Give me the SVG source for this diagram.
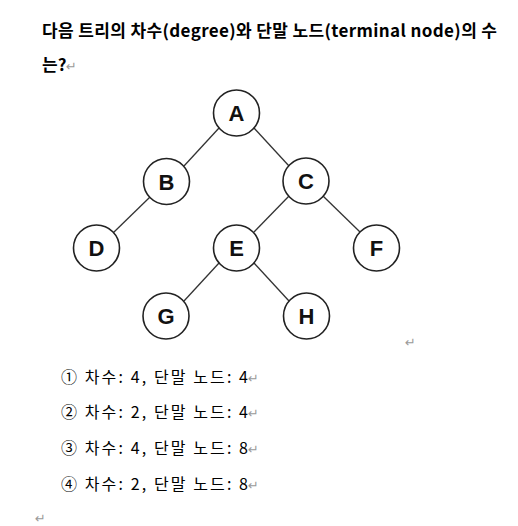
<svg xmlns="http://www.w3.org/2000/svg" width="518" height="526" viewBox="0 0 518 526">
<style>
.t{font-family:"Noto Sans CJK KR","Noto Sans",sans-serif;fill:#000}
.q{font-size:17px;font-weight:bold}
.o{font-size:16px}
.r{fill:#9a9a9a;font-family:"DejaVu Sans",sans-serif;font-size:13px}
.n circle{fill:#fff;stroke:#222;stroke-width:1.6}
.n text{font-family:"Liberation Sans",Arial,sans-serif;font-weight:bold;font-size:22px;text-anchor:middle;fill:#111}
#edges line{stroke:#333;stroke-width:1.3}
</style>
<rect width="518" height="526" fill="#fff"/>
<text class="t q" x="42" y="37" textLength="455" lengthAdjust="spacing">다음 트리의 차수(degree)와 단말 노드(terminal node)의 수</text>
<text class="t q" x="42" y="71">는?</text>
<text class="r" x="66" y="71">↵</text>
<g id="edges">
<line x1="219" y1="128" x2="184" y2="166"/>
<line x1="254" y1="128" x2="289" y2="166"/>
<line x1="150" y1="197" x2="113" y2="233"/>
<line x1="289" y1="196" x2="254" y2="232"/>
<line x1="323" y1="196" x2="360" y2="232"/>
<line x1="219" y1="263" x2="184" y2="301"/>
<line x1="254" y1="263" x2="289" y2="301"/>
</g>
<g id="A" class="n"><circle cx="236.5" cy="113" r="23"/><text x="236.5" y="121">A</text></g>
<g id="B" class="n"><circle cx="166.5" cy="181.5" r="23"/><text x="166.5" y="189.5">B</text></g>
<g id="C" class="n"><circle cx="306" cy="181" r="23"/><text x="306" y="189">C</text></g>
<g id="D" class="n"><circle cx="96.5" cy="248" r="23"/><text x="96.5" y="256">D</text></g>
<g id="E" class="n"><circle cx="236.5" cy="248" r="23"/><text x="236.5" y="256">E</text></g>
<g id="F" class="n"><circle cx="376.5" cy="248" r="23"/><text x="376.5" y="256">F</text></g>
<g id="G" class="n"><circle cx="166" cy="316" r="23"/><text x="166" y="324">G</text></g>
<g id="H" class="n"><circle cx="306.5" cy="316" r="23"/><text x="306.5" y="324">H</text></g>
<text class="r" x="405" y="347">↵</text>
<text class="t o" x="61" y="383" textLength="187" lengthAdjust="spacing">① 차수: 4, 단말 노드: 4</text>
<text class="t o" x="61" y="418" textLength="187" lengthAdjust="spacing">② 차수: 2, 단말 노드: 4</text>
<text class="t o" x="61" y="454" textLength="187" lengthAdjust="spacing">③ 차수: 4, 단말 노드: 8</text>
<text class="t o" x="61" y="490" textLength="187" lengthAdjust="spacing">④ 차수: 2, 단말 노드: 8</text>
<text class="r" x="248" y="383">↵</text>
<text class="r" x="248" y="418">↵</text>
<text class="r" x="248" y="454">↵</text>
<text class="r" x="248" y="490">↵</text>
<text class="r" x="35" y="523">↵</text>
</svg>
